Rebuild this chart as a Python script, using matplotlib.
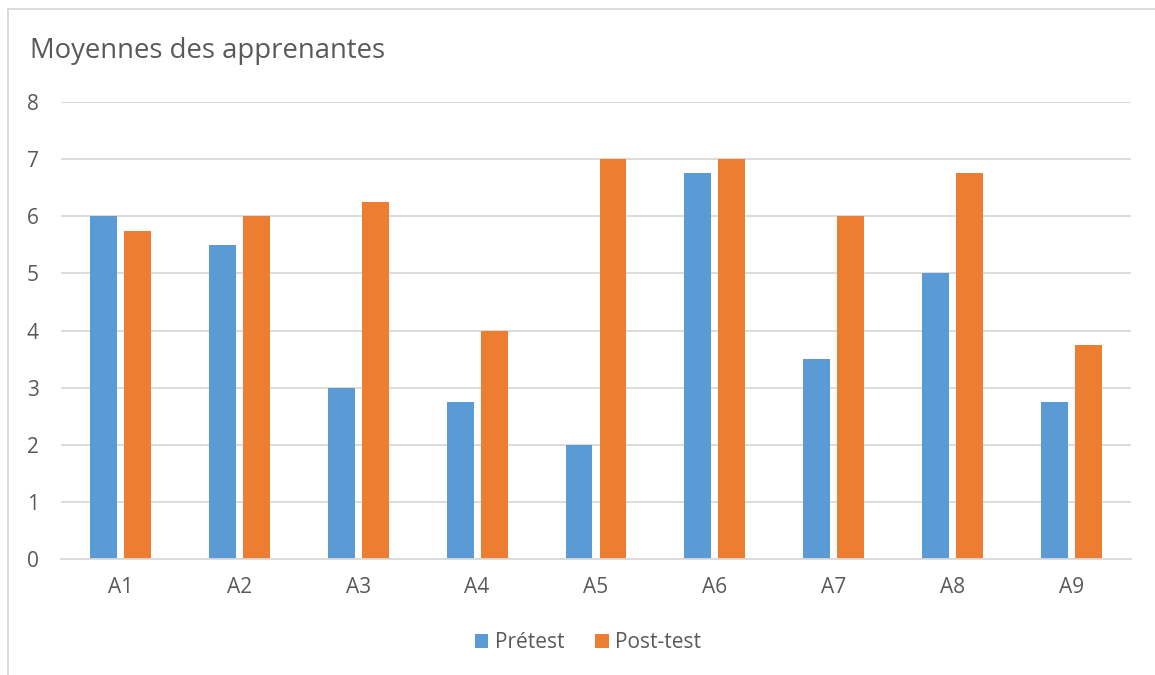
import matplotlib.pyplot as plt
import numpy as np
from matplotlib.lines import Line2D

categories = ['A1', 'A2', 'A3', 'A4', 'A5', 'A6', 'A7', 'A8', 'A9']
pretest = [6, 5.5, 3, 2.75, 2, 6.75, 3.5, 5, 2.75]
posttest = [5.75, 6, 6.25, 4, 7, 7, 6, 6.75, 3.75]
series_names = ['Prétest', 'Post-test']

blue = '#5B9BD5'
orange = '#ED7D31'
text_color = '#595959'
grid_color = '#D9D9D9'

plt.rcParams['font.family'] = ['Open Sans', 'DejaVu Sans']

fig = plt.figure(figsize=(11.55, 6.75), dpi=100)
ax = fig.add_axes([61 / 1155, 1 - 559 / 675, 1070 / 1155, 457 / 675])

x = np.arange(len(categories))
width = 0.227
offset = 0.143
b1 = ax.bar(x - offset, pretest, width, color=blue, label=series_names[0])
b2 = ax.bar(x + offset, posttest, width, color=orange, label=series_names[1])

ax.set_xlim(-0.5, len(categories) - 0.5)
ax.set_ylim(0, 8)
ax.set_yticks(range(0, 9))
ax.set_xticks(x)
ax.set_xticklabels(categories)
ax.yaxis.grid(True, color=grid_color, linewidth=1.3)
ax.set_axisbelow(True)
for s in ['top', 'right', 'left']:
    ax.spines[s].set_visible(False)
ax.spines['bottom'].set_color(grid_color)
ax.spines['bottom'].set_linewidth(1.3)
ax.tick_params(axis='both', length=0, labelsize=15, colors=text_color)
ax.tick_params(axis='y', pad=16)
ax.tick_params(axis='x', pad=13)

fig.text(30 / 1155, 1 - 51 / 675, 'Moyennes des apprenantes', fontsize=19.8,
         color=text_color, va='center', ha='left')

fig.legend(handles=[b1, b2], loc='center', bbox_to_anchor=(588 / 1155, 1 - 643 / 675),
           ncol=2, frameon=False, fontsize=15, labelcolor=text_color,
           handlelength=0.65, handleheight=0.65, handletextpad=0.3, columnspacing=1.5)

# chart border (only top and left visible in the frame)
fig.add_artist(Line2D([8 / 1155, 8 / 1155], [0, 1 - 9 / 675], transform=fig.transFigure,
                      color=grid_color, linewidth=1.3))
fig.add_artist(Line2D([8 / 1155, 1], [1 - 9 / 675, 1 - 9 / 675], transform=fig.transFigure,
                      color=grid_color, linewidth=1.3))

fig.savefig('out.png', dpi=100)
